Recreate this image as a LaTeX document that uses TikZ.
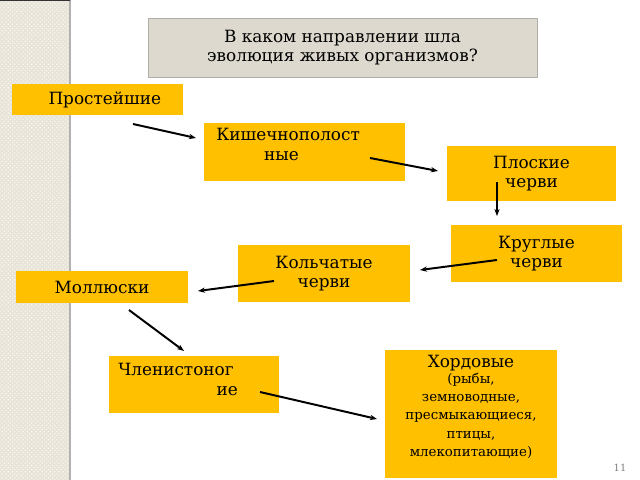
\documentclass[tikz,border=0pt]{standalone}
\usepackage{fontspec}
\setmainfont{DejaVu Serif}
\usetikzlibrary{arrows.meta}
\usetikzlibrary{positioning}
\usetikzlibrary{patterns}
\definecolor{boxyellow}{HTML}{FFC000}
\definecolor{boxgray}{HTML}{DDD9CE}
\definecolor{stripbeige}{HTML}{E9E4D8}
\tikzset{
	taxon/.style={fill=boxyellow, inner sep=0pt, font=\fontsize{12}{14}\selectfont, align=center},
	question/.style={fill=boxgray, draw=boxgray!80!black, line width=0.3pt, inner sep=0pt, font=\fontsize{12}{14}\selectfont, align=center},
	evo/.style={-{Stealth[length=5pt]}, line width=1.4pt, black}
}
\begin{document}
\begin{tikzpicture}[x=0.025cm, y=-0.025cm]
	\useasboundingbox (0,0) rectangle (640,480);
	% left strip
	\fill[stripbeige] (0,0) rectangle (70,480);
	\fill[pattern=crosshatch dots, pattern color=white!80!stripbeige] (0,0) rectangle (70,480);
	\draw[gray!60, line width=0.8pt] (70,0) -- (70,480);
	\draw[black!80, line width=1pt] (0,0.5) -- (70,0.5);

	% boxes
	\node[question, minimum width={389*0.025cm}, minimum height={59*0.025cm}] (quest) at (342.5,47.5) {В каком направлении шла\\эволюция живых организмов?};
	\node[taxon, minimum width={171*0.025cm}, minimum height={31*0.025cm}, anchor=west] (prost) at (12,99.5) {\hspace{10pt}Простейшие};
	\node[taxon, minimum width={201*0.025cm}, minimum height={58*0.025cm}, anchor=north] (kish) at (304.5,123) {};
	\node[font=\fontsize{12}{14}\selectfont, align=left, anchor=north west, inner sep=0pt] (kishtxt) at (216,128) {Кишечнополост\\\hspace{34pt}ные};
	\node[taxon, minimum width={169*0.025cm}, minimum height={55*0.025cm}] (plosk) at (531.5,173.5) {Плоские\\черви};
	\node[taxon, minimum width={171*0.025cm}, minimum height={57*0.025cm}] (krugl) at (536.5,253.5) {Круглые\\черви};
	\node[taxon, minimum width={172*0.025cm}, minimum height={57*0.025cm}] (kolch) at (324,273.5) {Кольчатые\\черви};
	\node[taxon, minimum width={172*0.025cm}, minimum height={32*0.025cm}] (moll) at (102,287) {Моллюски};
	\node[taxon, minimum width={170*0.025cm}, minimum height={57*0.025cm}] (chlen) at (194,384.5) {};
	\node[font=\fontsize{12}{14}\selectfont, align=left, anchor=north west, inner sep=0pt] (chlentxt) at (118,363) {Членистоног\\\hspace{70pt}ие};
	\node[taxon, minimum width={172*0.025cm}, minimum height={128*0.025cm}] (chord) at (471,414) {};
	\node[font=\fontsize{12}{14}\selectfont, inner sep=0pt, anchor=north] (chordhead) at (471,355) {Хордовые};
	\node[font=\fontsize{9.5}{13}\selectfont, align=center, inner sep=0pt, below=1pt of chordhead] (chordtxt) {(рыбы,\\земноводные,\\пресмыкающиеся,\\птицы,\\млекопитающие)};
	\node[text=gray, font=\fontsize{7}{8}\selectfont, inner sep=0pt] (pagenum) at (620,468) {11};

	% arrows
	\coordinate (a1) at (133,124); \coordinate (b1) at (196,138);
	\coordinate (a2) at (370,158); \coordinate (b2) at (438,171);
	\coordinate (a3) at (497,182); \coordinate (b3) at (497,216);
	\coordinate (a4) at (497,260); \coordinate (b4) at (420,270);
	\coordinate (a5) at (274,281); \coordinate (b5) at (198,291);
	\coordinate (a6) at (129,310); \coordinate (b6) at (184,351);
	\coordinate (a7) at (260,392); \coordinate (b7) at (377,419);
	\foreach \i in {1,...,7}
		\draw[evo] (a\i) -- (b\i);
\end{tikzpicture}
\end{document}
